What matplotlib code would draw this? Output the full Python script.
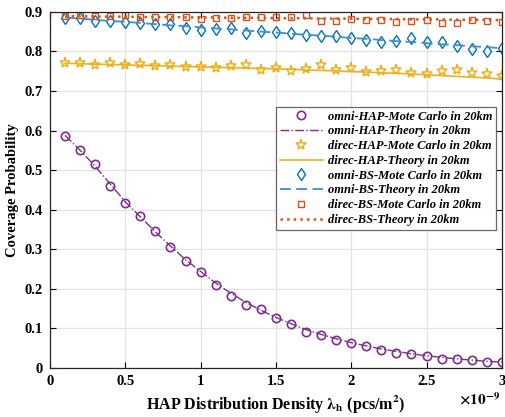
import numpy as np
import matplotlib.pyplot as plt

plt.rcParams['font.family'] = ['Liberation Serif', 'DejaVu Serif']
plt.rcParams['font.weight'] = 'bold'
plt.rcParams['mathtext.fontset'] = 'stix'

# density in units of 1e-9 pcs/m^2
lam = [0.1, 0.2, 0.3, 0.4, 0.5, 0.6, 0.7, 0.8, 0.9, 1.0,
       1.1, 1.2, 1.3, 1.4, 1.5, 1.6, 1.7, 1.8, 1.9, 2.0,
       2.1, 2.2, 2.3, 2.4, 2.5, 2.6, 2.7, 2.8, 2.9, 3.0]

omni_hap_mc = [0.587, 0.551, 0.515, 0.461, 0.416, 0.385, 0.345, 0.307, 0.271, 0.243,
               0.209, 0.182, 0.159, 0.149, 0.126, 0.110, 0.092, 0.083, 0.072, 0.062,
               0.056, 0.046, 0.037, 0.035, 0.031, 0.024, 0.023, 0.019, 0.016, 0.014]
omni_hap_th = [0.588, 0.550, 0.510, 0.465, 0.420, 0.382, 0.344, 0.308, 0.274, 0.244,
               0.215, 0.189, 0.166, 0.146, 0.128, 0.112, 0.097, 0.085, 0.074, 0.064,
               0.056, 0.048, 0.042, 0.036, 0.031, 0.027, 0.023, 0.020, 0.017, 0.015]

direc_hap_mc = [0.770, 0.770, 0.765, 0.770, 0.767, 0.768, 0.764, 0.765, 0.760, 0.761,
                0.759, 0.764, 0.765, 0.752, 0.759, 0.751, 0.755, 0.765, 0.753, 0.759,
                0.747, 0.751, 0.752, 0.746, 0.744, 0.751, 0.752, 0.746, 0.743, 0.739]
direc_hap_th = [0.770, 0.769, 0.768, 0.767, 0.766, 0.765, 0.764, 0.763, 0.762, 0.761,
                0.760, 0.759, 0.758, 0.757, 0.756, 0.755, 0.753, 0.752, 0.751, 0.749,
                0.748, 0.746, 0.745, 0.743, 0.741, 0.739, 0.737, 0.735, 0.733, 0.730]

omni_bs_mc = [0.884, 0.884, 0.878, 0.876, 0.874, 0.871, 0.869, 0.869, 0.859, 0.853,
              0.856, 0.859, 0.846, 0.852, 0.848, 0.847, 0.841, 0.839, 0.838, 0.835,
              0.829, 0.824, 0.826, 0.834, 0.824, 0.823, 0.814, 0.806, 0.802, 0.808]
omni_bs_th = [0.886, 0.883, 0.880, 0.877, 0.875, 0.872, 0.869, 0.866, 0.864, 0.861,
              0.858, 0.856, 0.853, 0.850, 0.848, 0.845, 0.842, 0.840, 0.837, 0.834,
              0.832, 0.829, 0.826, 0.824, 0.821, 0.818, 0.816, 0.813, 0.811, 0.808]

direc_bs_mc = [0.890, 0.891, 0.889, 0.889, 0.893, 0.886, 0.887, 0.887, 0.886, 0.882,
               0.884, 0.884, 0.887, 0.887, 0.887, 0.887, 0.891, 0.878, 0.878, 0.882,
               0.880, 0.880, 0.875, 0.878, 0.880, 0.873, 0.873, 0.880, 0.878, 0.875]
direc_bs_th = [0.889, 0.889, 0.888, 0.888, 0.888, 0.887, 0.887, 0.887, 0.886, 0.886,
               0.886, 0.885, 0.885, 0.885, 0.884, 0.884, 0.884, 0.883, 0.883, 0.883,
               0.882, 0.882, 0.882, 0.881, 0.881, 0.881, 0.880, 0.880, 0.880, 0.879]

purple = '#7E2F8E'
yellow = '#EDB120'
blue = '#0072BD'
lblue = '#3A8FD0'
orange = '#D95319'

fig = plt.figure(figsize=(5.06, 4.17), dpi=100)
ax = fig.add_axes([0.0988, 0.1175, 0.893, 0.854])

ax.plot(lam, omni_hap_mc, 'o', color=purple, mfc='none', ms=6, mew=1.2,
        label='omni-HAP-Mote Carlo in 20km')
ax.plot(lam, omni_hap_th, '-.', color=purple, lw=1.0,
        label='omni-HAP-Theory in 20km')
ax.plot(lam, direc_hap_mc, '*', color=yellow, mfc='none', ms=8, mew=1.1,
        label='direc-HAP-Mote Carlo in 20km')
ax.plot(lam, direc_hap_th, '-', color=yellow, lw=1.2,
        label='direc-HAP-Theory in 20km')
ax.plot(lam, omni_bs_mc, 'd', color=blue, mfc='none', ms=6.5, mew=1.0,
        label='omni-BS-Mote Carlo in 20km')
ax.plot(lam, omni_bs_th, '--', color=lblue, lw=1.3, dashes=(6, 3),
        label='omni-BS-Theory in 20km')
ax.plot(lam, direc_bs_mc, 's', color=orange, mfc='none', ms=4.5, mew=1.0,
        label='direc-BS-Mote Carlo in 20km')
ax.plot(lam, direc_bs_th, ':', color=orange, lw=1.8,
        label='direc-BS-Theory in 20km')

ax.set_xlim(0, 3)
ax.set_ylim(0, 0.9)
ax.set_xticks([0, 0.5, 1, 1.5, 2, 2.5, 3])
ax.set_xticklabels(['0', '0.5', '1', '1.5', '2', '2.5', '3'])
ax.set_yticks(np.arange(0, 0.91, 0.1))
ax.set_yticklabels(['0'] + ['%.1f' % v for v in np.arange(0.1, 0.91, 0.1)])
ax.tick_params(direction='in', top=True, right=True, labelsize=10.5, length=4,
               width=0.8, pad=5)
for lbl in ax.get_xticklabels() + ax.get_yticklabels():
    lbl.set_fontweight('bold')
ax.grid(True, color='#e3e3e3', lw=0.9)
ax.set_axisbelow(True)
for s in ax.spines.values():
    s.set_linewidth(0.9)
    s.set_color('#262626')

ax.set_ylabel('Coverage Probability', fontsize=10.5, fontweight='bold', labelpad=4)
ax.set_xlabel(r'HAP Distribution Density $\mathbf{\lambda_{h}}$ (pcs/m$^{\mathbf{2}}$)',
              fontsize=11.5, fontweight='bold', labelpad=4)
fig.text(0.988, 0.022, r'$\times\mathbf{10^{-9}}$', ha='right', va='bottom', fontsize=11)

leg = ax.legend(loc='upper right', bbox_to_anchor=(0.987, 0.733),
                prop={'style': 'italic', 'weight': 'bold', 'size': 9},
                frameon=True, fancybox=False, edgecolor='#444444',
                handlelength=3.4, handletextpad=0.4, labelspacing=0.22,
                borderpad=0.3, borderaxespad=0.0, markerfirst=True)
leg.get_frame().set_linewidth(0.9)

fig.savefig('out.png', dpi=100)
